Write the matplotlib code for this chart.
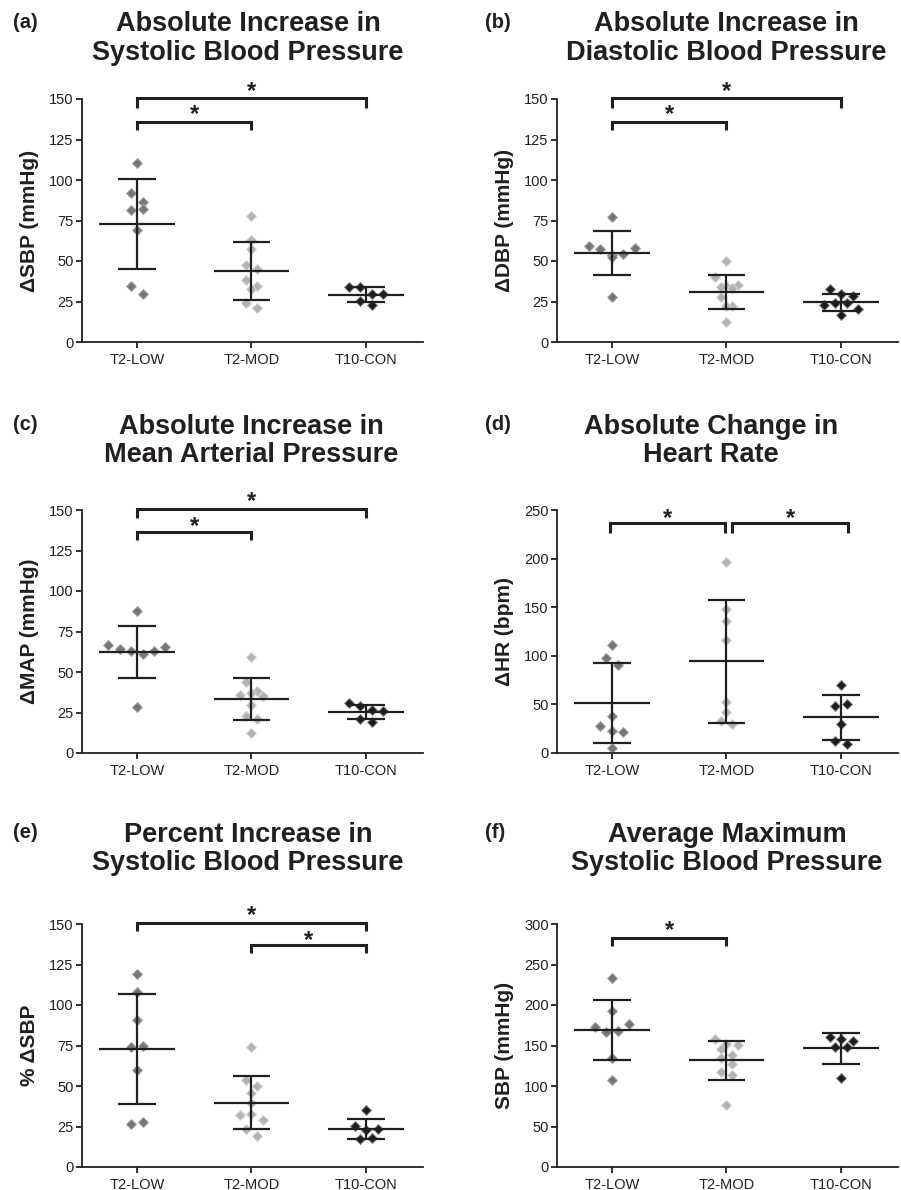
"""
Six-panel scatter of blood pressure / heart rate responses per group
(mean +/- SD with individual points, GraphPad style).
"""

import numpy as np
import matplotlib.pyplot as plt

plt.rcParams['font.family'] = ['Liberation Sans', 'DejaVu Sans']

# ---------------------------------------------------------------------
# Data
# ---------------------------------------------------------------------

groups = ["T2-LOW", "T2-MOD", "T10-CON"]

# (a) absolute increase in SBP
dsbp_low = [110.7, 91.8, 86.6, 81.3, 82.3, 68.9, 34.8, 29.8]
dsbp_mod = [77.6, 63.2, 57.4, 47.3, 45.1, 38.5, 34.8, 32.9, 23.9, 21.0]
dsbp_con = [34.0, 34.0, 29.8, 29.8, 25.5, 23.0]
dsbp_mean = [73.0, 44.0, 29.3]
dsbp_sd = [27.8, 17.9, 4.4]

# (b) absolute increase in DBP
ddbp_low = [77.0, 59.1, 57.6, 53.7, 52.5, 54.5, 58.2, 27.6]
ddbp_mod = [49.8, 40.1, 34.8, 34.0, 35.4, 33.3, 27.6, 22.4, 22.0, 12.3]
ddbp_con = [32.7, 29.6, 28.6, 23.0, 24.1, 24.1, 20.4, 16.5]
ddbp_mean = [55.1, 30.9, 24.5]
ddbp_sd = [13.6, 10.4, 5.2]

# (c) absolute increase in MAP
dmap_low = [87.7, 66.6, 64.3, 62.7, 61.2, 62.7, 65.7, 28.1]
dmap_mod = [59.0, 43.6, 38.2, 35.5, 37.0, 35.3, 29.4, 23.0, 21.0, 12.3]
dmap_con = [30.8, 28.8, 26.7, 26.1, 21.0, 19.1]
dmap_mean = [62.3, 33.3, 25.3]
dmap_sd = [16.2, 13.0, 4.3]

# (d) absolute change in HR
dhr_low = [111.3, 97.3, 90.1, 37.7, 27.4, 22.9, 21.6, 5.1]
dhr_mod = [196.6, 148.6, 136.0, 116.0, 52.0, 41.8, 32.5, 29.8]
dhr_con = [69.5, 48.6, 50.3, 29.8, 12.0, 9.2]
dhr_mean = [51.4, 94.2, 36.6]
dhr_sd = [41.5, 63.4, 23.4]

# (e) percent increase in SBP
psbp_low = [119.2, 108.3, 90.8, 74.0, 75.0, 60.0, 26.7, 27.7]
psbp_mod = [74.0, 54.0, 49.7, 45.8, 39.7, 32.3, 32.9, 28.8, 23.6, 18.9]
psbp_con = [34.9, 25.1, 23.0, 23.6, 17.1, 17.9]
psbp_mean = [72.7, 39.7, 23.6]
psbp_sd = [33.9, 16.4, 6.3]

# (f) average maximum SBP
maxsbp_low = [233.0, 193.2, 173.4, 166.5, 168.5, 176.7, 134.8, 107.7]
maxsbp_mod = [158.2, 152.0, 150.8, 145.9, 138.5, 134.8, 127.0, 117.1, 113.4, 76.0]
maxsbp_con = [161.1, 157.8, 155.4, 148.0, 148.0, 109.7]
maxsbp_mean = [169.3, 131.5, 146.4]
maxsbp_sd = [37.2, 24.3, 18.9]

# ---------------------------------------------------------------------
# Styling
# ---------------------------------------------------------------------

INK = "#231f20"
face_colors = ["#767676", "#b2b2b2", "#1c1c1c"]
edge_colors = ["#a6a6a6", "#d4d4d4", "#8a8a8a"]

W, H = 901, 1190


def fx(px):
    return px / W


def fy(py):
    return 1 - py / H


def swarm_offsets(values, h, step=0.1):
    """Spread points with similar values symmetrically in rows."""
    vals = np.asarray(values, float)
    order = np.argsort(-vals, kind="stable")
    offsets = np.zeros(len(vals))
    i = 0
    while i < len(order):
        top = vals[order[i]]
        j = i
        while j < len(order) and top - vals[order[j]] < h:
            j += 1
        members = sorted(order[i:j])
        n = len(members)
        for k, m in enumerate(members):
            offsets[m] = (k - (n - 1) / 2) * step
        i = j
    return offsets


def bracket(ax, x1, x2, y, drop, star_y):
    ax.plot([x1, x1, x2, x2], [y - drop, y, y, y - drop], color=INK,
            lw=2.2, clip_on=False, solid_joinstyle="miter",
            solid_capstyle="butt", zorder=4)
    ax.annotate("*", xy=((x1 + x2) / 2, star_y), xytext=(0, -9.5),
                textcoords="offset points", ha="center", va="baseline",
                fontsize=17, fontweight="bold", color=INK,
                annotation_clip=False)


panels = [
    dict(tag="(a)", title="Absolute Increase in\nSystolic Blood Pressure",
         ylabel="ΔSBP (mmHg)", ymax=150, ystep=25,
         data=[dsbp_low, dsbp_mod, dsbp_con], mean=dsbp_mean, sd=dsbp_sd,
         brackets=[(0, 2, 150.6, 6.2, 158.6), (0, 1, 136.0, 5.2, 144.4)]),
    dict(tag="(b)", title="Absolute Increase in\nDiastolic Blood Pressure",
         ylabel="ΔDBP (mmHg)", ymax=150, ystep=25,
         data=[ddbp_low, ddbp_mod, ddbp_con], mean=ddbp_mean, sd=ddbp_sd,
         brackets=[(0, 2, 150.6, 6.2, 158.6), (0, 1, 136.0, 5.2, 144.4)]),
    dict(tag="(c)", title="Absolute Increase in\nMean Arterial Pressure",
         ylabel="ΔMAP (mmHg)", ymax=150, ystep=25,
         data=[dmap_low, dmap_mod, dmap_con], mean=dmap_mean, sd=dmap_sd,
         brackets=[(0, 2, 150.9, 5.6, 159.2), (0, 1, 136.7, 5.2, 144.2)]),
    dict(tag="(d)", title="Absolute Change in\nHeart Rate",
         ylabel="ΔHR (bpm)", ymax=250, ystep=50,
         data=[dhr_low, dhr_mod, dhr_con], mean=dhr_mean, sd=dhr_sd,
         brackets=[(-0.02, 0.99, 236.3, 9.6, 248.3),
                   (1.05, 2.06, 236.3, 9.6, 248.3)]),
    dict(tag="(e)", title="Percent Increase in\nSystolic Blood Pressure",
         ylabel="% ΔSBP", ymax=150, ystep=25,
         data=[psbp_low, psbp_mod, psbp_con], mean=psbp_mean, sd=psbp_sd,
         brackets=[(0, 2, 150.4, 5.0, 159.2), (1, 2, 137.3, 5.4, 144.2)]),
    dict(tag="(f)", title="Average Maximum\nSystolic Blood Pressure",
         ylabel="SBP (mmHg)", ymax=300, ystep=50,
         data=[maxsbp_low, maxsbp_mod, maxsbp_con], mean=maxsbp_mean,
         sd=maxsbp_sd,
         brackets=[(0, 1, 282.8, 10.3, 300.8)]),
]

# pixel layout of each panel: axes left, axes bottom, title centre x/y
col_left = [82, 557]
row_bottom = [342, 753, 1167]
title_x = [248, 726, 251, 711, 248, 727]
title_y = [38.5, 38.5, 441, 441, 849, 849]
tag_y = [22, 22, 424, 424, 833, 833]
tag_x = [13, 485]
AX_W, AX_H = 341, 243

# ---------------------------------------------------------------------
# Plot
# ---------------------------------------------------------------------

fig = plt.figure(figsize=(W / 100, H / 100), dpi=100)

for i, p in enumerate(panels):
    r, c = divmod(i, 2)
    left = col_left[c]
    bottom = row_bottom[r]
    ax = fig.add_axes([fx(left), fy(bottom), AX_W / W, AX_H / H])

    ymax = p["ymax"]
    for gi, vals in enumerate(p["data"]):
        x = gi + swarm_offsets(vals, 0.036 * ymax)
        ax.plot(x, vals, "D", ms=5.0, mfc=face_colors[gi],
                mec=edge_colors[gi], mew=0.7, ls="none", zorder=2,
                clip_on=False)
        m, s = p["mean"][gi], p["sd"][gi]
        ax.hlines(m, gi - 0.33, gi + 0.33, color=INK, lw=1.6, zorder=3)
        ax.hlines([m - s, m + s], gi - 0.165, gi + 0.165, color=INK,
                  lw=1.6, zorder=3)
        ax.vlines(gi, m - s, m + s, color=INK, lw=1.6, zorder=3)

    for (x1, x2, y, drop, sy) in p["brackets"]:
        bracket(ax, x1, x2, y, drop, sy)

    ax.set_xlim(-0.478, 2.496)
    ax.set_ylim(0, ymax)
    ax.set_yticks(np.arange(0, ymax + 1, p["ystep"]))
    ax.set_xticks(range(len(groups)))
    ax.set_xticklabels(groups)

    for side in ["top", "right"]:
        ax.spines[side].set_visible(False)
    for side in ["left", "bottom"]:
        ax.spines[side].set_linewidth(1.3)
        ax.spines[side].set_color(INK)

    ax.tick_params(axis="both", direction="out", length=4, width=1.3,
                   color=INK, labelcolor=INK, labelsize=10.5)
    ax.tick_params(axis="x", pad=4)
    ax.tick_params(axis="y", pad=2)

    ax.set_ylabel(p["ylabel"], fontsize=15, fontweight="bold", color=INK,
                  va="center")
    ax.yaxis.set_label_coords(-0.155, 0.5)

    fig.text(fx(title_x[i]), fy(title_y[i]), p["title"], ha="center",
             va="center", fontsize=19.5, fontweight="bold", color=INK,
             linespacing=1.14)
    fig.text(fx(tag_x[c]), fy(tag_y[i]), p["tag"], ha="left",
             va="center", fontsize=14.5, fontweight="bold", color=INK)

fig.savefig("out.png", dpi=100)
